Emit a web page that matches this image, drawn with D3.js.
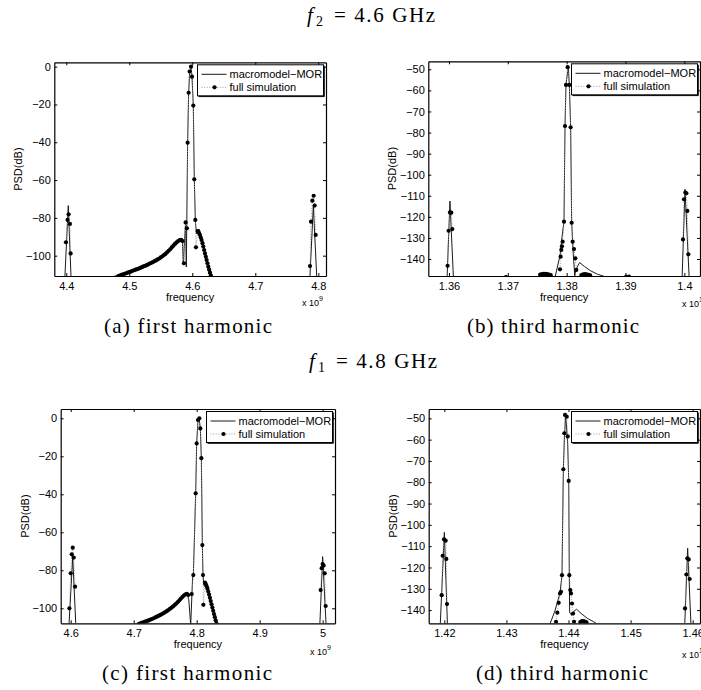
<!DOCTYPE html>
<html>
<head>
<meta charset="utf-8">
<script src="https://cdnjs.cloudflare.com/ajax/libs/d3/7.8.5/d3.min.js"></script>
<style>
body { margin: 0; background: #fff; }
.cap { font-family: "Liberation Serif", "DejaVu Serif", serif; fill: #000; }
</style>
</head>
<body>
<div id="fig"></div>
<script>
// tick values
var aXTicks = [4.4, 4.5, 4.6, 4.7, 4.8];
var bXTicks = [1.36, 1.37, 1.38, 1.39, 1.4];
var cXTicks = [4.6, 4.7, 4.8, 4.9, 5];
var dXTicks = [1.42, 1.43, 1.44, 1.45, 1.46];
var firstYTicks = [-100, -80, -60, -40, -20, 0];
var thirdYTicks = [-140, -130, -120, -110, -100, -90, -80, -70, -60, -50];

// axis limits
var aXLim = [4.381, 4.8122], aYLim = [-110.75, 2.3];
var bXLim = [1.35649, 1.40266], bYLim = [-148.07, -46.19];
var cXLim = [4.5841, 5.0196], cYLim = [-107.9, 4.9];
var dXLim = [1.41748, 1.46118], dYLim = [-146.2, -45.62];

// (a) f2 first harmonic, x 1e9 Hz, null = break
var aLineF = [4.3977, 4.4032, 4.4076, null,
  4.461, 4.48, 4.50, 4.52, 4.54, 4.55, 4.56, 4.57, 4.578, 4.5825, 4.5845, 4.5857, 4.5894, 4.5905,
  4.5926, 4.5942, 4.5958, 4.5979, 4.5995, 4.6016, 4.6032, 4.6048, 4.6065, 4.6095, 4.6148, 4.6201, 4.6254, 4.6333, null,
  4.7866, 4.7921, 4.7976];
var aLineDb = [-112, -73.5, -112, null,
  -112, -110.6, -108.5, -105.9, -102.6, -100.5, -97.8, -94.5, -92.0, -91.4, -92.5, -105, -82, -106,
  -40, -14, -3, 0, -5, -20.5, -59.6, -81, -88.5, -86.8, -91.3, -98.2, -105, -112, null,
  -112, -73.5, -112];
var aDotF = [4.3995, 4.4021, 4.4037, 4.4058, 4.4069, null,
  4.4825, 4.485, 4.4875, 4.49, 4.4925, 4.495, 4.4975, 4.50, 4.5025, 4.505, 4.5075, 4.51, 4.5125, 4.515,
  4.5175, 4.52, 4.5225, 4.525, 4.5275, 4.53, 4.5325, 4.535, 4.5375, 4.54, 4.5425, 4.545, 4.5475, 4.55,
  4.5525, 4.555, 4.5575, 4.56, 4.5625, 4.565, 4.5675, 4.57, 4.5725, 4.575, 4.5775, 4.58, 4.5825, 4.5845,
  4.5868, 4.5894, 4.5915, 4.5926, 4.5942, 4.5958, 4.5979, 4.5995, 4.6016, 4.6032, 4.6048, 4.6058, 4.6085,
  4.6095, 4.6108, 4.6122, 4.6135, 4.6148, 4.6162, 4.6175, 4.6188, 4.6201, 4.6215, 4.6228, 4.6241, 4.6254,
  4.6267, 4.628, 4.6294, 4.6307, null,
  4.7868, 4.7884, 4.7905, 4.7926, 4.7942, 4.7958];
var aDotDb = [-92.9, -81.1, -78.1, -83.2, -98.8, null,
  -110.8, -110.5, -110.2, -109.9, -109.6, -109.3, -109.0, -108.7, -108.4, -108.0, -107.7, -107.4, -107.1, -106.8,
  -106.5, -106.1, -105.7, -105.4, -105.0, -104.6, -104.2, -103.8, -103.4, -102.9, -102.5, -102.0, -101.5, -100.9,
  -100.3, -99.7, -99.0, -98.2, -97.4, -96.6, -95.6, -94.7, -93.8, -93.0, -92.3, -91.8, -91.6, -92.3,
  -104, -82.4, -85.5, -40.2, -13.8, -2.6, 0, -5.3, -20.6, -59.6, -81.1, -95.6, -87,
  -87.0, -88.0, -89.1, -90.4, -91.7, -93.4, -95.2, -97.0, -98.8, -100.6, -102.3, -104.0, -105.8,
  -107.4, -109.0, -110.5, -112.0, null,
  -105.5, -82, -70.9, -68.3, -73.5, -89];

// (b) f2 third harmonic, x 1e10 Hz
var bLineF = [1.35968, 1.36017, 1.36076, null,
  1.378, 1.3789, 1.37915, 1.37955, 1.37972, 1.37989, 1.38028, 1.38045, 1.38068, 1.38085, 1.381, 1.38113,
  1.38138, 1.38155, 1.3822, 1.383, 1.384, 1.3852, 1.3872, null,
  1.39962, 1.40011, 1.40082];
var bLineDb = [-149, -112.5, -149, null,
  -149, -138, -131, -122, -77, -57, -48.8, -57, -77, -122, -131, -138,
  -148, -145, -141.7, -143.5, -145.5, -147.2, -149, null,
  -149, -106.9, -149];
var bDotF = [1.35977, 1.35994, 1.36017, 1.3604, 1.36057, null,
  1.36969, null,
  1.3755, 1.3758, 1.3761, 1.3764, 1.3767, 1.377, 1.3773, null,
  1.37887, 1.37898, 1.37909, 1.3792, 1.37932, 1.37955, 1.37972, 1.37989, 1.38017, 1.38045, 1.38068,
  1.38085, 1.38102, 1.38125, 1.38147, 1.38164, null,
  1.3825, 1.3828, 1.3831, 1.3834, 1.3837, 1.384, null,
  1.3901, 1.3906, null,
  1.39977, 1.39994, 1.40017, 1.40034, 1.40051, 1.40068];
var bDotDb = [-143.2, -126.6, -117.9, -118, -125.8, null,
  -148.6, null,
  -147.4, -147.2, -147.1, -147.1, -147.2, -147.4, -147.7, null,
  -144.9, -138.9, -135.7, -134, -131.8, -122.3, -76.9, -57.4, -49, -57.4, -77.5,
  -122.8, -131.8, -135.3, -139.7, -145.2, null,
  -147.6, -147.3, -147.2, -147.3, -147.5, -147.8, null,
  -148.5, -148.3, null,
  -130.7, -111.7, -108.5, -108.8, -117.2, -137.8];

// (c) f1 first harmonic, x 1e9 Hz
var cLineF = [4.5972, 4.6032, 4.6081, null,
  4.6965, 4.71, 4.73, 4.75, 4.76, 4.77, 4.78, 4.7845, 4.7875, 4.7905, 4.7935, 4.7947, 4.7984, 4.8,
  4.8021, 4.8037, 4.8058, 4.8074, 4.809, 4.81, 4.8116, 4.8132, 4.8184, 4.8236, 4.8288, 4.8345, null,
  4.9955, 5.0, 5.0055];
var cLineDb = [-109, -72.8, -109, null,
  -109, -107.4, -105.1, -101.7, -99.4, -96.4, -93, -92.2, -95.5, -109, -84, -82.5, -39.5, -13.2,
  -0.9, 0.3, -5.3, -21, -66.7, -82.5, -88, -86.3, -90.6, -97, -104, -109, null,
  -109, -72.8, -109];
var cDotF = [4.5979, 4.6, 4.6016, 4.6032, 4.6048, 4.6069, null,
  4.7075, 4.71, 4.7125, 4.715, 4.7175, 4.72, 4.7225, 4.725, 4.7275, 4.73, 4.7325, 4.735, 4.7375, 4.74,
  4.7425, 4.745, 4.7475, 4.75, 4.7525, 4.755, 4.7575, 4.76, 4.7625, 4.765, 4.7675, 4.77, 4.7725, 4.775,
  4.7775, 4.78, 4.7825, 4.7845, 4.7865,
  4.7921, 4.7947, 4.7984, 4.8, 4.8021, 4.8042, 4.8058, 4.8074, 4.809, 4.81, 4.8106,
  4.8132, 4.8145, 4.8158, 4.8171, 4.8184, 4.8197, 4.821, 4.8223, 4.8236, 4.8249, 4.8262, 4.8275, 4.8288,
  4.8301, 4.8314, 4.8327, null,
  4.9968, 4.9984, 5.0, 5.0016, 5.0032, 5.0048];
var cDotDb = [-100, -81.6, -71.6, -68.1, -73.3, -88.6, null,
  -108.4, -108.0, -107.7, -107.4, -107.1, -106.8, -106.5, -106.2, -105.8, -105.5, -105.1, -104.7, -104.3, -103.9,
  -103.5, -103.0, -102.5, -102.0, -101.5, -100.9, -100.3, -99.7, -99.0, -98.3, -97.5, -96.7, -95.8, -94.9,
  -94.0, -93.2, -92.6, -92.4, -93.0,
  -92.5, -82.5, -39.5, -13.2, -0.9, 0, -5.3, -21, -66.7, -82.5, -98.2,
  -86.5, -87.3, -88.4, -89.7, -91.2, -92.8, -94.5, -96.2, -97.9, -99.6, -101.3, -103.0, -104.7,
  -106.3, -107.9, -109.5, null,
  -90.4, -78.9, -76.7, -77.5, -81.6, -98.8];

// (d) f1 third harmonic, x 1e10 Hz
var dLineF = [1.41934, 1.42, 1.4205, null,
  1.43695, 1.4378, 1.43863, 1.43895, 1.43917, 1.43933, 1.43954, 1.43987, 1.44003, 1.44013, 1.44018,
  1.4405, 1.4409, 1.4413, 1.442, 1.443, 1.444, 1.4449, null,
  1.45872, 1.45919, 1.45973];
var dLineDb = [-147, -103.5, -147, null,
  -147, -140.5, -132, -123.6, -74, -60, -48.2, -62, -79, -123.6, -141,
  -142.5, -140.5, -139.6, -141.5, -143.8, -145.4, -147, null,
  -147, -111, -147];
var dDotF = [1.41957, 1.41973, 1.41995, 1.42021, 1.42032, 1.42043, null,
  1.43799, 1.4382, 1.43842, 1.43863, 1.43879, 1.43895, 1.43917, 1.43933, 1.43944, 1.43971, 1.43987,
  1.44003, 1.44013, 1.44029, 1.4404, 1.44056, 1.44073, 1.44089, null,
  1.4419, 1.4421, 1.4423, 1.4425, 1.4427, 1.4429, null,
  1.45877, 1.45898, 1.45914, 1.45936, 1.45952];
var dDotDb = [-133, -114.5, -106.8, -107.4, -116, -137.2, null,
  -145.5, -141.2, -136.6, -132.2, -131.4, -123.6, -73.9, -57, -48.4, -49.2, -58.5,
  -79.4, -123.6, -130.6, -132.2, -136.9, -141.6, -145.5, null,
  -145.6, -145.3, -145.2, -145.3, -145.5, -145.8, null,
  -139.2, -123.3, -115.7, -116.2, -125.4];

var legendNames = ["macromodel\u2212MOR", "full simulation"];

var width = 701, height = 690;
var svg = d3.select("#fig").append("svg")
  .attr("width", width)
  .attr("height", height);

var panels = [
  {id: "a", box: [54.3, 62.3, 326, 276], xLim: aXLim, yLim: aYLim, xTicks: aXTicks, yTicks: firstYTicks,
   lineF: aLineF, lineDb: aLineDb, dotF: aDotF, dotDb: aDotDb, exp: "9", expPos: [302, 306]},
  {id: "b", box: [428.3, 61.3, 700, 276], xLim: bXLim, yLim: bYLim, xTicks: bXTicks, yTicks: thirdYTicks,
   lineF: bLineF, lineDb: bLineDb, dotF: bDotF, dotDb: bDotDb, exp: "10", expPos: [682, 307]},
  {id: "c", box: [60.7, 409, 335, 623.3], xLim: cXLim, yLim: cYLim, xTicks: cXTicks, yTicks: firstYTicks,
   lineF: cLineF, lineDb: cLineDb, dotF: cDotF, dotDb: cDotDb, exp: "9", expPos: [310, 655]},
  {id: "d", box: [428.7, 409, 700, 623.3], xLim: dXLim, yLim: dYLim, xTicks: dXTicks, yTicks: thirdYTicks,
   lineF: dLineF, lineDb: dLineDb, dotF: dDotF, dotDb: dDotDb, exp: "10", expPos: [682, 658]}
];

var sans = "'Liberation Sans', Arial, Helvetica, sans-serif";
var fmt = d3.format("");

panels.forEach(drawPanel);

function drawPanel(p) {
  var x0 = p.box[0], y0 = p.box[1], x1 = p.box[2], y1 = p.box[3];
  var x = d3.scaleLinear().domain(p.xLim).range([x0, x1]);
  var y = d3.scaleLinear().domain(p.yLim).range([y1, y0]);
  var g = svg.append("g").attr("class", "panel " + p.id);

  svg.append("clipPath").attr("id", "clip-" + p.id)
    .append("rect")
    .attr("x", x0).attr("y", y0)
    .attr("width", x1 - x0).attr("height", y1 - y0);

  var line = d3.line()
    .defined(function(d) { return d[1] !== null; })
    .x(function(d) { return x(d[0]); })
    .y(function(d) { return y(d[1]); });

  var plot = g.append("g").attr("clip-path", "url(#clip-" + p.id + ")");

  // macromodel-MOR
  plot.append("path")
    .datum(d3.zip(p.lineF, p.lineDb))
    .attr("d", line)
    .attr("fill", "none")
    .attr("stroke", "#1a1a1a")
    .attr("stroke-width", 1);

  // full simulation
  var dots = d3.zip(p.dotF, p.dotDb);
  plot.append("path")
    .datum(dots)
    .attr("d", line)
    .attr("fill", "none")
    .attr("stroke", "#9a9a9a")
    .attr("stroke-width", 1)
    .attr("stroke-dasharray", "1,1.6");

  plot.selectAll("circle.dot")
    .data(dots.filter(function(d) { return d[1] !== null; }))
    .enter().append("circle")
    .attr("class", "dot")
    .attr("cx", function(d) { return x(d[0]); })
    .attr("cy", function(d) { return y(d[1]); })
    .attr("r", 2.1)
    .attr("fill", "#000");

  // axes, ticks inside
  var axes = [
    {ax: d3.axisBottom(x).tickValues(p.xTicks).tickPadding(6).tickFormat(fmt), t: "translate(0," + y1 + ")"},
    {ax: d3.axisTop(x).tickValues(p.xTicks).tickFormat(""), t: "translate(0," + y0 + ")"},
    {ax: d3.axisLeft(y).tickValues(p.yTicks).tickPadding(3.5).tickFormat(fmt), t: "translate(" + x0 + ",0)"},
    {ax: d3.axisRight(y).tickValues(p.yTicks).tickFormat(""), t: "translate(" + x1 + ",0)"}
  ];
  axes.forEach(function(a) {
    var ag = g.append("g")
      .attr("transform", a.t)
      .call(a.ax.tickSize(-3).tickSizeOuter(0));
    ag.attr("font-family", sans).attr("font-size", 11);
    ag.selectAll("line").attr("stroke", "#000").attr("stroke-width", 1);
    ag.select(".domain").attr("stroke", "#000").attr("stroke-width", 1.2);
    ag.selectAll("text").attr("fill", "#000");
  });

  // labels
  g.append("text")
    .attr("x", (x0 + x1) / 2)
    .attr("y", y1 + 24.5)
    .attr("text-anchor", "middle")
    .attr("font-family", sans).attr("font-size", 11)
    .text("frequency");

  g.append("text")
    .attr("transform", "translate(" + (x0 - 36) + "," + ((y0 + y1) / 2) + ")rotate(-90)")
    .attr("dy", "0.35em")
    .attr("text-anchor", "middle")
    .attr("font-family", sans).attr("font-size", 11)
    .text("PSD(dB)");

  var ex = g.append("text")
    .attr("x", p.expPos[0])
    .attr("y", p.expPos[1])
    .attr("font-family", sans).attr("font-size", 9);
  ex.append("tspan").text("x 10");
  ex.append("tspan").attr("dy", -5).attr("font-size", 7).text(p.exp);

  // legend
  var lw = 126, lh = 31;
  var lx = x1 - 2.5 - lw, ly = y0 + 2.5;
  var lg = g.append("g").attr("transform", "translate(" + lx + "," + ly + ")");
  lg.append("rect")
    .attr("width", lw).attr("height", lh)
    .attr("fill", "#fff")
    .attr("stroke", "#000").attr("stroke-width", 1);
  // heavier right/bottom edge
  lg.append("path")
    .attr("d", "M" + (lw + 0.8) + ",1V" + (lh + 0.8) + "H1")
    .attr("fill", "none")
    .attr("stroke", "#000").attr("stroke-width", 1);
  lg.append("line")
    .attr("x1", 4).attr("x2", 29).attr("y1", 9.5).attr("y2", 9.5)
    .attr("stroke", "#1a1a1a");
  lg.append("line")
    .attr("x1", 4).attr("x2", 29).attr("y1", 22.5).attr("y2", 22.5)
    .attr("stroke", "#9a9a9a").attr("stroke-dasharray", "1,1.6");
  lg.append("circle").attr("cx", 17).attr("cy", 22.5).attr("r", 2.1).attr("fill", "#000");
  lg.selectAll("text.lt")
    .data(legendNames)
    .enter().append("text")
    .attr("class", "lt")
    .attr("x", 32)
    .attr("y", function(d, i) { return 9.5 + i * 13; })
    .attr("dy", "0.35em")
    .attr("font-family", sans).attr("font-size", 11)
    .text(function(d) { return d; });
}

// headings f2 / f1
function heading(xf, yb, sub, rest) {
  var t = svg.append("g");
  t.append("text").attr("class", "cap").attr("x", xf).attr("y", yb)
    .attr("font-size", 21).attr("font-style", "italic").text("f");
  t.append("text").attr("class", "cap").attr("x", xf + 9).attr("y", yb + 4)
    .attr("font-size", 14).text(sub);
  t.append("text").attr("class", "cap").attr("x", xf + 27).attr("y", yb)
    .attr("font-size", 21)
    .attr("textLength", 101).attr("lengthAdjust", "spacing")
    .text(rest);
}
heading(307, 21.5, "2", "= 4.6 GHz");
heading(309, 368, "1", "= 4.8 GHz");

var captions = [
  {x: 104, y: 333, s: "(a) first harmonic", len: 168},
  {x: 467, y: 333, s: "(b) third harmonic", len: 172},
  {x: 102, y: 680, s: "(c) first harmonic", len: 170},
  {x: 476, y: 680, s: "(d) third harmonic", len: 172}
];
svg.selectAll("text.caption")
  .data(captions)
  .enter().append("text")
  .attr("class", "cap caption")
  .attr("x", function(d) { return d.x; })
  .attr("y", function(d) { return d.y; })
  .attr("font-size", 21)
  .attr("textLength", function(d) { return d.len; })
  .attr("lengthAdjust", "spacing")
  .text(function(d) { return d.s; });
</script>
</body>
</html>
